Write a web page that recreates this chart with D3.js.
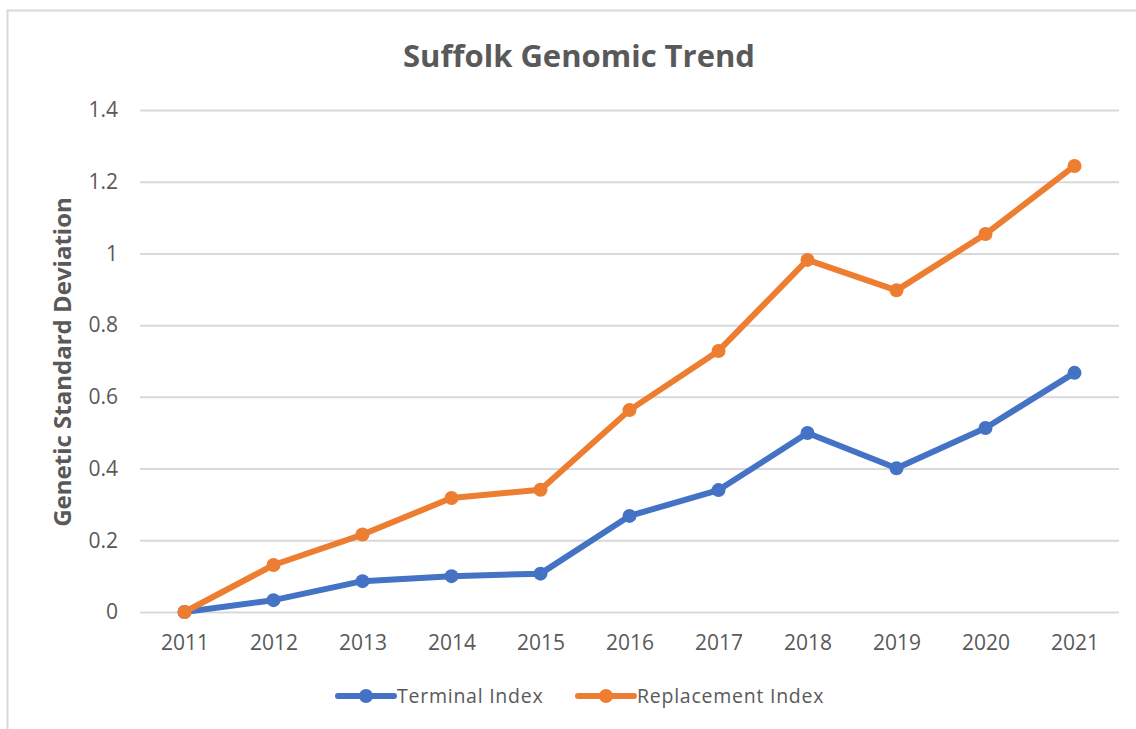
<!DOCTYPE html>
<html>
<head>
<meta charset="utf-8">
<script src="https://cdn.jsdelivr.net/npm/d3@7"></script>
<style>
  body { margin: 0; background: #fff; }
  text { fill: #595959; }
</style>
</head>
<body>
<script>
var width = 1136;
var height = 729;

var years = ['2011', '2012', '2013', '2014', '2015', '2016', '2017', '2018', '2019', '2020', '2021'];
var terminal = [0, 0.033, 0.086, 0.100, 0.107, 0.268, 0.340, 0.499, 0.401, 0.513, 0.667];
var replacement = [0, 0.131, 0.216, 0.318, 0.341, 0.563, 0.728, 0.982, 0.897, 1.054, 1.244];
var yTicks = [0, 0.2, 0.4, 0.6, 0.8, 1, 1.2, 1.4];
var seriesNames = ['Terminal Index', 'Replacement Index'];
var colors = ['#4472C4', '#ED7D31'];

var plotLeft = 140, plotRight = 1119, plotTop = 110, plotBottom = 612;

var svg = d3.select('body').append('svg').attr('width', width).attr('height', height);

// chart frame (only top and left edges are visible in the crop)
svg.append('path').attr('d', 'M7.5,' + height + 'V10.5H' + width)
  .attr('fill', 'none').attr('stroke', '#d9d9d9').attr('stroke-width', 2);

var x = d3.scalePoint().domain(years).range([plotLeft, plotRight]).padding(0.5);
var y = d3.scaleLinear().domain([0, 1.4]).range([plotBottom, plotTop]);

// gridlines
var yAxis = d3.axisLeft(y).tickValues(yTicks).tickSize(-(plotRight - plotLeft)).tickPadding(22)
  .tickFormat(function (d) { return d3.format('')(d); });
var gy = svg.append('g').attr('transform', 'translate(' + plotLeft + ',0)').call(yAxis);
gy.select('.domain').remove();
gy.selectAll('.tick line').attr('stroke', '#d9d9d9').attr('stroke-width', 2);
gy.selectAll('.tick text').style('font-family', 'Open Sans').style('font-size', '21px').attr('fill', '#595959');

var xAxis = d3.axisBottom(x).tickSize(0).tickPadding(23);
var gx = svg.append('g').attr('transform', 'translate(0,' + plotBottom + ')').call(xAxis);
gx.select('.domain').remove();
gx.selectAll('.tick text').style('font-family', 'Open Sans').style('font-size', '21px').attr('fill', '#595959');

var line = d3.line().x(function (d, i) { return x(years[i]); }).y(function (d) { return y(d); });

[terminal, replacement].forEach(function (vals, k) {
  svg.append('path').datum(vals).attr('d', line)
    .attr('fill', 'none').attr('stroke', colors[k]).attr('stroke-width', 6)
    .attr('stroke-linejoin', 'round').attr('stroke-linecap', 'round');
  svg.selectAll('.dot' + k).data(vals).enter().append('circle')
    .attr('class', 'dot' + k)
    .attr('cx', function (d, i) { return x(years[i]); })
    .attr('cy', function (d) { return y(d); })
    .attr('r', 7).attr('fill', colors[k]);
});

// title
svg.append('text').attr('x', 579).attr('y', 67).attr('text-anchor', 'middle')
  .style('font-family', 'Open Sans').style('font-weight', 'bold').style('font-size', '31px')
  .text('Suffolk Genomic Trend');

// y axis title
svg.append('text').attr('transform', 'translate(71,362) rotate(-90)').attr('text-anchor', 'middle')
  .style('font-family', 'Open Sans').style('font-weight', 'bold').style('font-size', '24px')
  .text('Genetic Standard Deviation');

// legend
var legendX = [338, 578];
seriesNames.forEach(function (name, k) {
  var g = svg.append('g').attr('transform', 'translate(' + legendX[k] + ',696)');
  g.append('line').attr('x1', 0).attr('x2', 56).attr('y1', 0).attr('y2', 0)
    .attr('stroke', colors[k]).attr('stroke-width', 6).attr('stroke-linecap', 'round');
  g.append('circle').attr('cx', 28).attr('cy', 0).attr('r', 7).attr('fill', colors[k]);
  g.append('text').attr('x', 59).attr('y', 7)
    .style('font-family', 'Open Sans').style('font-size', '19.5px').style('letter-spacing', '0.75px').text(name);
});
</script>
</body>
</html>
